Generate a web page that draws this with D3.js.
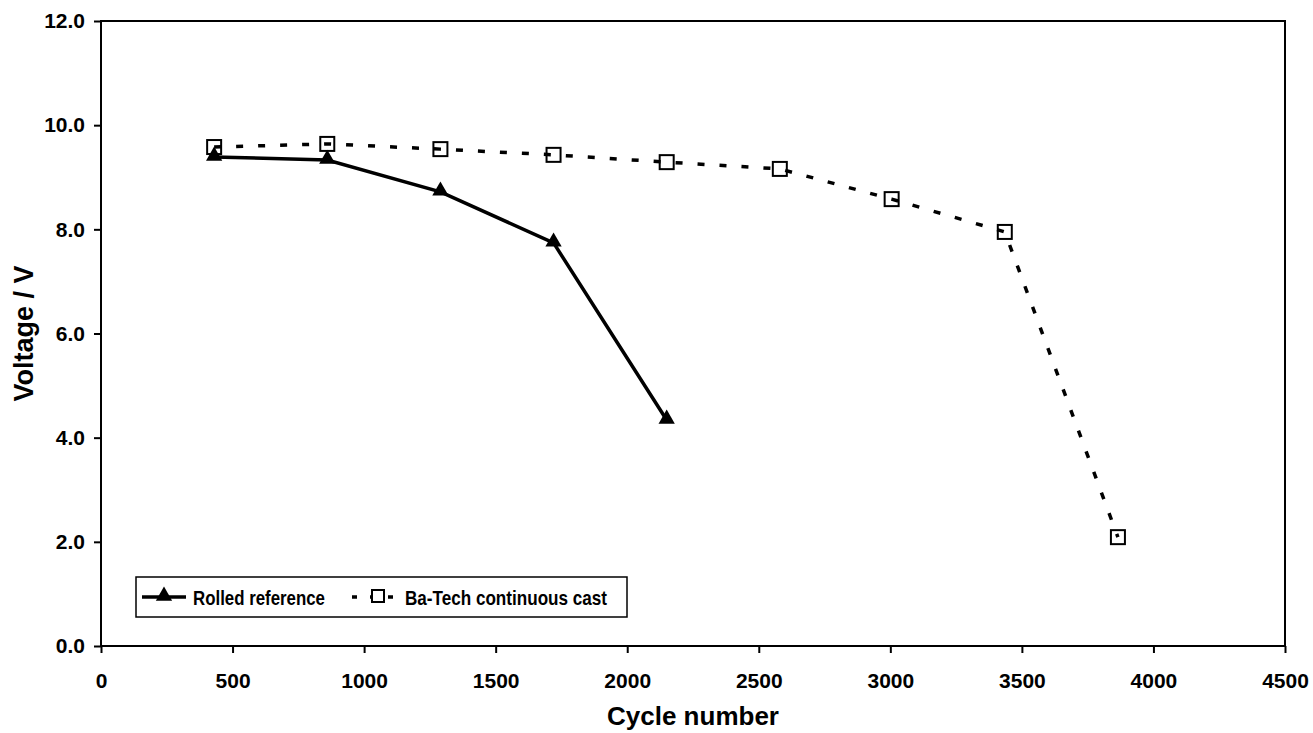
<!DOCTYPE html>
<html>
<head>
<meta charset="utf-8">
<script src="https://cdn.jsdelivr.net/npm/d3@7"></script>
<style>
  body { margin: 0; background: #fff; }
  svg { display: block; font-family: "Liberation Sans", Arial, sans-serif; font-weight: bold; }
</style>
</head>
<body>
<svg id="chart" width="1313" height="733"></svg>
<script>
// data
var rolledCycles = [430, 860, 1290, 1720, 2150];
var rolledVolts = [9.39, 9.33, 8.72, 7.74, 4.34];

var castCycles = [430, 860, 1290, 1720, 2150, 2580, 3005, 3435, 3865];
var castVolts = [9.58, 9.64, 9.54, 9.43, 9.29, 9.16, 8.58, 7.95, 2.09];

var xTicks = [0, 500, 1000, 1500, 2000, 2500, 3000, 3500, 4000, 4500];
var yTicks = [0, 2, 4, 6, 8, 10, 12];

var seriesNames = ["Rolled reference", "Ba-Tech continuous cast"];

var margin = {top: 21, right: 28, bottom: 87, left: 101},
    width = 1313 - margin.left - margin.right,
    height = 733 - margin.top - margin.bottom;

var svg = d3.select("#chart");
var g = svg.append("g").attr("transform", "translate(" + margin.left + "," + margin.top + ")");

var x = d3.scaleLinear().domain([0, 4500]).range([0, width]);
var y = d3.scaleLinear().domain([0, 12]).range([height, 0]);

// frame
g.append("rect")
    .attr("width", width).attr("height", height)
    .attr("fill", "none").attr("stroke", "#000").attr("stroke-width", 2);

// axes
var xAxis = g.append("g")
    .attr("transform", "translate(0," + height + ")")
    .call(d3.axisBottom(x).tickValues(xTicks).tickSize(7).tickPadding(20).tickFormat(d3.format("d")));
var yAxis = g.append("g")
    .call(d3.axisLeft(y).tickValues(yTicks).tickSize(7).tickPadding(9).tickFormat(d3.format(".1f")));

[xAxis, yAxis].forEach(function (a) {
    a.select(".domain").remove();
    a.selectAll("line").attr("stroke", "#000").attr("stroke-width", 2);
    a.selectAll("text")
        .attr("fill", "#000")
        .style("font-family", "'Liberation Sans', Arial, sans-serif")
        .style("font-weight", "bold")
        .style("font-size", "21px");
});

// titles
svg.append("text")
    .attr("x", margin.left + width / 2).attr("y", 725)
    .attr("text-anchor", "middle")
    .style("font-size", "26px")
    .text("Cycle number");
svg.append("text")
    .attr("transform", "translate(33," + (margin.top + height / 2) + ") rotate(-90)")
    .attr("text-anchor", "middle")
    .style("font-size", "27px")
    .text("Voltage / V");

var rolled = rolledCycles.map(function (c, i) { return [c, rolledVolts[i]]; });
var cast = castCycles.map(function (c, i) { return [c, castVolts[i]]; });

var line = d3.line().x(function (d) { return x(d[0]); }).y(function (d) { return y(d[1]); });
var tri = d3.symbol().type(d3.symbolTriangle).size(115);

// cast series: markers below the dashed line
g.selectAll(".sq").data(cast).enter().append("rect")
    .attr("class", "sq")
    .attr("x", function (d) { return x(d[0]) - 7; })
    .attr("y", function (d) { return y(d[1]) - 7; })
    .attr("width", 14).attr("height", 14)
    .attr("fill", "#fff").attr("stroke", "#000").attr("stroke-width", 2);
g.append("path").datum(cast)
    .attr("d", line)
    .attr("fill", "none").attr("stroke", "#000").attr("stroke-width", 3.5)
    .attr("stroke-dasharray", "7,15");

// rolled series
g.append("path").datum(rolled)
    .attr("d", line)
    .attr("fill", "none").attr("stroke", "#000").attr("stroke-width", 3.5);
g.selectAll(".tri").data(rolled).enter().append("path")
    .attr("class", "tri")
    .attr("d", tri)
    .attr("transform", function (d) { return "translate(" + x(d[0]) + "," + (y(d[1]) - 1) + ")"; })
    .attr("fill", "#000");

// legend
var lg = svg.append("g").attr("transform", "translate(136,577)");
lg.append("rect").attr("width", 491).attr("height", 40)
    .attr("fill", "#fff").attr("stroke", "#000").attr("stroke-width", 1.5);
lg.append("line").attr("x1", 6).attr("x2", 50).attr("y1", 20).attr("y2", 20)
    .attr("stroke", "#000").attr("stroke-width", 3.5);
lg.append("path").attr("d", tri).attr("transform", "translate(28,19)").attr("fill", "#000");
lg.append("text").attr("x", 57).attr("y", 28).style("font-size", "21px")
    .attr("textLength", 132).attr("lengthAdjust", "spacingAndGlyphs")
    .text(seriesNames[0]);

lg.append("line").attr("x1", 216).attr("x2", 258).attr("y1", 20).attr("y2", 20)
    .attr("stroke", "#000").attr("stroke-width", 3.5).attr("stroke-dasharray", "5,13");
lg.append("rect").attr("x", 236).attr("y", 13).attr("width", 12).attr("height", 12)
    .attr("fill", "#fff").attr("stroke", "#000").attr("stroke-width", 2);
lg.append("text").attr("x", 269).attr("y", 28).style("font-size", "21px")
    .attr("textLength", 202).attr("lengthAdjust", "spacingAndGlyphs")
    .text(seriesNames[1]);
</script>
</body>
</html>
